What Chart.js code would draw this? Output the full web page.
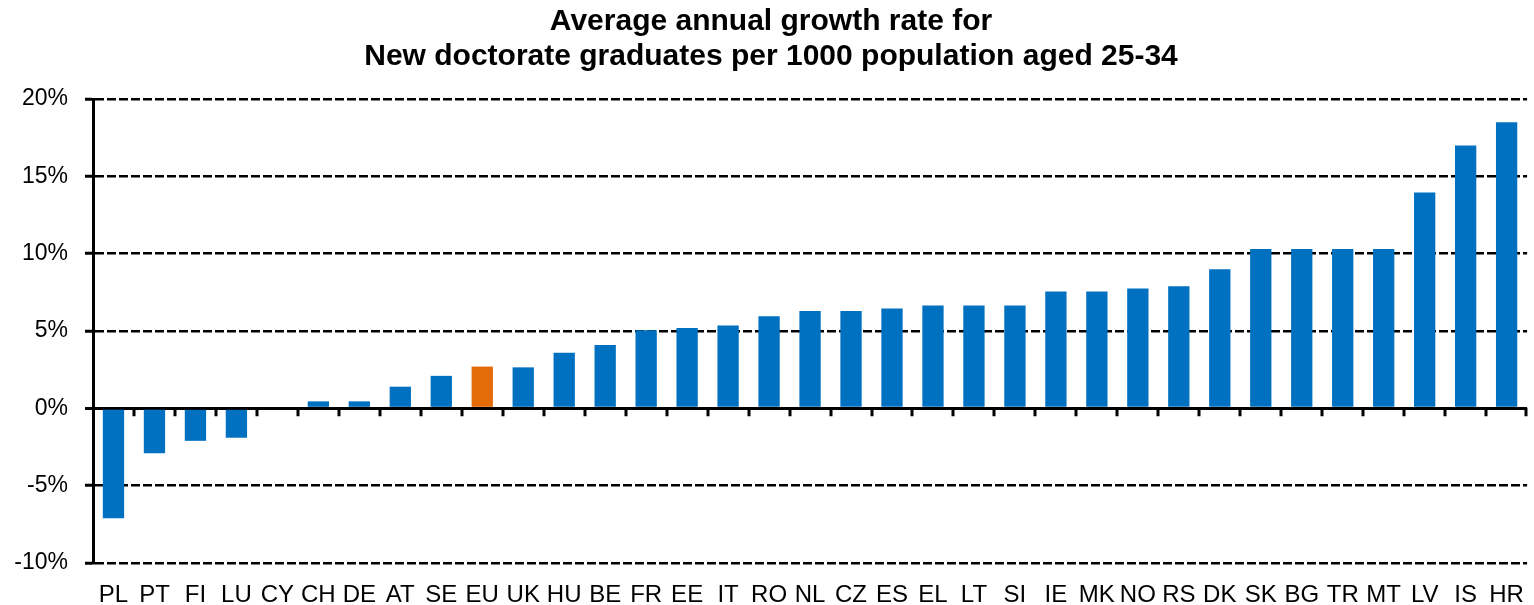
<!DOCTYPE html>
<html><head><meta charset="utf-8">
<script src="https://cdn.jsdelivr.net/npm/chart.js@4.4.0/dist/chart.umd.min.js"></script>
<style>html,body{margin:0;padding:0;background:#fff;overflow:hidden}#wrap{width:1534px;height:605px;position:relative}canvas{display:block}</style>
</head><body><div id="wrap"><canvas id="c"></canvas></div>
<script>
const categories = ['PL','PT','FI','LU','CY','CH','DE','AT','SE','EU','UK','HU','BE','FR','EE','IT','RO','NL','CZ','ES','EL','LT','SI','IE','MK','NO','RS','DK','SK','BG','TR','MT','LV','IS','HR'];
const growthRate = [-7.1,-2.9,-2.1,-1.9,0,0.45,0.45,1.4,2.1,2.7,2.65,3.6,4.1,5.05,5.2,5.35,5.95,6.3,6.3,6.45,6.65,6.65,6.65,7.55,7.55,7.75,7.9,9.0,10.3,10.3,10.3,10.3,13.95,17.0,18.5];
const highlightCategory = 'EU';
const titleLines = ['Average annual growth rate for', 'New doctorate graduates per 1000 population aged 25-34'];
const yMin = -10, yMax = 20, yStep = 5;

const BLUE = '#0070C0', ORANGE = '#E36C09';
const FONT = 'Liberation Sans, Arial, sans-serif';

const zeroTicks = {
  id: 'zeroTicks',
  afterDraw(chart) {
    const x = chart.scales.x, y = chart.scales.y, ctx = chart.ctx;
    const y0 = y.getPixelForValue(0);
    ctx.save();
    ctx.strokeStyle = '#000';
    ctx.lineWidth = 3;
    ctx.beginPath();
    for (let i = 1; i <= categories.length; i++) {
      let px = Math.round(x.getPixelForValue(i - 0.5));
      if (i === categories.length) px -= 1;
      ctx.moveTo(px, y0);
      ctx.lineTo(px, y0 + 8);
    }
    ctx.stroke();
    ctx.restore();
  }
};

new Chart(document.getElementById('c'), {
  type: 'bar',
  data: {
    labels: categories,
    datasets: [{
      data: growthRate,
      backgroundColor: categories.map(c => c === highlightCategory ? ORANGE : BLUE),
      borderWidth: 0,
      barPercentage: 0.52,
      categoryPercentage: 1.0
    }]
  },
  options: {
    responsive: true,
    maintainAspectRatio: false,
    animation: false,
    layout: { padding: { left: 12, right: 4, top: 0, bottom: 0 } },
    plugins: {
      legend: { display: false },
      tooltip: { enabled: false },
      title: {
        display: true,
        text: titleLines,
        color: '#000',
        font: { family: FONT, size: 30, weight: 'bold', lineHeight: 1.167 },
        padding: { top: 4, bottom: 25 }
      }
    },
    scales: {
      x: {
        grid: { display: false },
        border: { display: false },
        ticks: {
          color: '#000',
          font: { family: FONT, size: 24 },
          padding: 10,
          maxRotation: 0,
          autoSkip: false
        },
        afterFit(s) { s.height = 42; }
      },
      y: {
        min: yMin, max: yMax,
        ticks: {
          stepSize: yStep,
          color: '#000',
          font: { family: FONT, size: 23 },
          padding: 17,
          callback: v => v + '%'
        },
        grid: {
          color: '#000',
          lineWidth: ctx => (ctx.tick && ctx.tick.value === 0) ? 3 : 2.5,
          tickLength: 8,
          tickColor: '#000',
          tickWidth: 3,
          tickBorderDash: []
        },
        border: {
          display: true,
          color: '#000',
          width: 3,
          dash: ctx => (ctx.type === 'tick' && ctx.tick && ctx.tick.value !== 0) ? [9, 3] : []
        },
        afterFit(s) { s.width = 81; }
      }
    }
  },
  plugins: [zeroTicks]
});
</script>
</body></html>
